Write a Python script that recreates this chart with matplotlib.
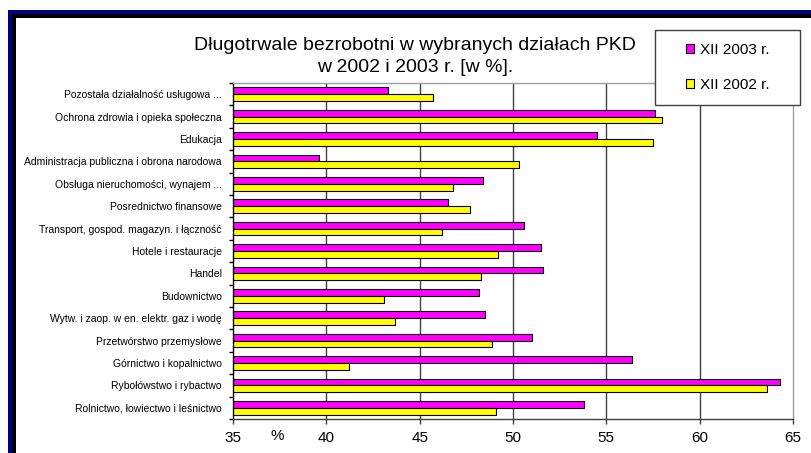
import matplotlib.pyplot as plt
import numpy as np
from matplotlib.patches import Rectangle

categories = [
    "Pozostała działalność usługowa ...",
    "Ochrona zdrowia i opieka społeczna",
    "Edukacja",
    "Administracja publiczna i obrona narodowa",
    "Obsługa nieruchomości, wynajem ...",
    "Posrednictwo finansowe",
    "Transport, gospod. magazyn. i łączność",
    "Hotele i restauracje",
    "Handel",
    "Budownictwo",
    "Wytw. i zaop. w en. elektr. gaz i wodę",
    "Przetwórstwo przemysłowe",
    "Górnictwo i kopalnictwo",
    "Rybołówstwo i rybactwo",
    "Rolnictwo, łowiectwo i leśnictwo",
]
val_2003 = [43.3, 57.6, 54.5, 39.6, 48.4, 46.5, 50.6, 51.5, 51.6, 48.2, 48.5, 51.0, 56.4, 64.3, 53.8]
val_2002 = [45.7, 58.0, 57.5, 50.3, 46.8, 47.7, 46.2, 49.2, 48.3, 43.1, 43.7, 48.9, 41.2, 63.6, 49.1]
series_names = ["XII 2003 r.", "XII 2002 r."]
xticks = [35, 40, 45, 50, 55, 60, 65]

plt.rcParams["font.family"] = ["Liberation Sans", "DejaVu Sans"]

W, H = 811, 453
fig = plt.figure(figsize=(W / 100, H / 100), dpi=100)
ax = fig.add_axes([233 / W, 1 - 419 / H, (793 - 233) / W, (419 - 83) / H])

y = np.arange(len(categories))
b1 = ax.barh(y - 0.15, val_2003, height=0.3, color="#ff00ff", edgecolor="black", linewidth=0.8, zorder=2)
b2 = ax.barh(y + 0.15, val_2002, height=0.3, color="#ffff00", edgecolor="black", linewidth=0.8, zorder=2)

for xv in xticks[1:-1]:
    ax.axvline(xv, color="#404040", linewidth=1, zorder=1)

ax.set_xlim(xticks[0], xticks[-1])
ax.set_ylim(len(categories) - 0.5, -0.5)

ax.set_xticks(xticks)
ax.set_xticklabels([str(t) for t in xticks], fontsize=11)
ax.tick_params(axis="x", direction="out", length=3.6, width=1, color="#404040", pad=5)

ax.set_yticks(np.arange(-0.5, len(categories), 1))
ax.set_yticklabels([])
ax.tick_params(axis="y", which="major", direction="out", length=3, width=1, color="black")
ax.set_yticks(y, minor=True)
ax.set_yticklabels(categories, minor=True, fontsize=7.5)
ax.tick_params(axis="y", which="minor", length=0, pad=8)

ax.spines["left"].set_color("black")
ax.spines["bottom"].set_color("#404040")
ax.spines["top"].set_color("#a0a0a0")
ax.spines["right"].set_color("#a0a0a0")
for s in ax.spines.values():
    s.set_linewidth(1)

fig.text(277 / W, 1 - 436 / H, "%", fontsize=11, ha="center", va="center")

fig.text(415 / W, 1 - 56.5 / H, "Długotrwale bezrobotni w wybranych działach PKD\nw 2002 i 2003 r. [w %].",
         fontsize=14, ha="center", va="center", linespacing=1.36)

# legend box
fig.patches.append(Rectangle((655 / W, 1 - 105 / H), 145 / W, 75 / H, transform=fig.transFigure,
                             facecolor="white", edgecolor="#404040", linewidth=1, zorder=3))
fig.legend([b1, b2], series_names, loc="center left", bbox_to_anchor=(686 / W, 1 - 67.5 / H),
           frameon=False, fontsize=11, handlelength=0.55, handleheight=0.55, handletextpad=0.35,
           labelspacing=1.4, borderpad=0, borderaxespad=0).set_zorder(5)

# window frame
navy, blk = "#000080", "black"
fig.patches.append(Rectangle((8 / W, 0), (W - 8) / W, 1 - 10 / H, transform=fig.transFigure,
                             facecolor=navy, edgecolor="none", zorder=-3))
fig.patches.append(Rectangle((12 / W, 0), (W - 12) / W, 1 - 14 / H, transform=fig.transFigure,
                             facecolor=blk, edgecolor="none", zorder=-2))
fig.patches.append(Rectangle((16 / W, 0), (W - 16) / W, 1 - 18 / H, transform=fig.transFigure,
                             facecolor="white", edgecolor="none", zorder=-1))

fig.savefig("out.png", dpi=100)
